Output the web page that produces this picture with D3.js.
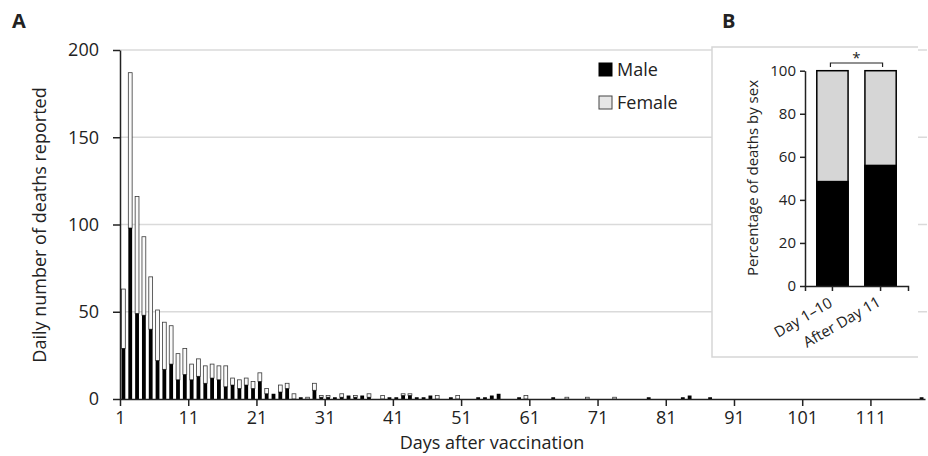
<!DOCTYPE html>
<html>
<head>
<meta charset="utf-8">
<script src="https://cdn.jsdelivr.net/npm/d3@7"></script>
<style>
  body { margin: 0; background: #fff; }
  svg { font-family: 'Open Sans', sans-serif; fill: #222; }
</style>
</head>
<body>
<div id="chart"></div>
<script>
const width = 928;
const height = 456;

// Panel A: daily deaths by sex, days 1..118 after vaccination
const days = d3.range(1, 119);
const male = [
  29, 98, 49, 48, 40, 22, 17, 20, 11, 14,
  11, 13, 9, 12, 11, 7, 8, 6, 8, 6,
  10, 3, 3, 4, 6, 0, 1, 0, 5, 1,
  1, 1, 1, 2, 1, 2, 1, 0, 0, 1,
  1, 2, 2, 1, 1, 2, 0, 0, 1, 0,
  0, 0, 1, 1, 2, 3, 0, 0, 1, 0,
  0, 0, 0, 1, 0, 0, 0, 0, 0, 0,
  0, 0, 0, 0, 0, 0, 0, 1, 0, 0,
  0, 0, 1, 2, 0, 0, 1, 0, 0, 0,
  0, 0, 0, 0, 0, 0, 0, 0, 0, 0,
  0, 0, 0, 0, 0, 0, 0, 0, 0, 0,
  0, 0, 0, 0, 0, 0, 0, 1
];
const female = [
  34, 89, 67, 45, 30, 29, 27, 22, 15, 15,
  9, 10, 10, 8, 8, 12, 4, 5, 4, 4,
  5, 3, 0, 4, 3, 3, 0, 1, 4, 1,
  1, 0, 2, 0, 1, 0, 2, 0, 2, 0,
  0, 1, 1, 0, 0, 0, 2, 0, 0, 2,
  0, 0, 0, 0, 0, 0, 0, 0, 0, 2,
  0, 0, 0, 0, 0, 1, 0, 0, 1, 0,
  0, 0, 1, 0, 0, 0, 0, 0, 0, 0,
  0, 0, 0, 0, 0, 0, 0, 0, 0, 0,
  0, 0, 0, 0, 0, 0, 0, 0, 0, 0,
  0, 0, 0, 0, 0, 0, 0, 0, 0, 0,
  0, 0, 0, 0, 0, 0, 0, 0
];
const dayTicks = [1, 11, 21, 31, 41, 51, 61, 71, 81, 91, 101, 111];
const countTicks = [0, 50, 100, 150, 200];

// Panel B: percentage of deaths by sex
const periods = ['Day 1\u201310', 'After Day 11'];
const malePct = [48.5, 56];
const pctTicks = [0, 20, 40, 60, 80, 100];

const svg = d3.select('#chart').append('svg')
  .attr('width', width)
  .attr('height', height);

// ---- panel A ----
const x = d3.scaleBand().domain(days).range([120, 925])
  .paddingInner(0.44).paddingOuter(0.22);
const xTick = d3.scaleLinear().domain([1, 119]).range([120, 925]);
const y = d3.scaleLinear().domain([0, 200]).range([399, 50]);

svg.append('g').selectAll('line')
  .data(countTicks.slice(1))
  .join('line')
  .attr('x1', 120).attr('x2', 927)
  .attr('y1', d => y(d)).attr('y2', d => y(d))
  .attr('stroke', '#dadada').attr('stroke-width', 1.5);

const rows = days.map((d, i) => ({ day: d, m: male[i], f: female[i] }));

svg.append('g').selectAll('rect')
  .data(rows.filter(r => r.f > 0))
  .join('rect')
  .attr('x', r => x(r.day))
  .attr('width', x.bandwidth())
  .attr('y', r => y(r.m + r.f))
  .attr('height', r => y(r.m) - y(r.m + r.f))
  .attr('fill', '#fafafa')
  .attr('stroke', '#3a3a3a')
  .attr('stroke-width', 0.8);

svg.append('g').selectAll('rect')
  .data(rows.filter(r => r.m > 0))
  .join('rect')
  .attr('x', r => x(r.day))
  .attr('width', x.bandwidth())
  .attr('y', r => y(r.m))
  .attr('height', r => y(0) - y(r.m))
  .attr('fill', '#000');

const yAxis = svg.append('g')
  .attr('transform', 'translate(120,0)')
  .call(d3.axisLeft(y).tickValues(countTicks).tickSize(7).tickSizeOuter(0).tickPadding(14));

const xAxis = svg.append('g')
  .attr('transform', 'translate(0,399)')
  .call(d3.axisBottom(xTick).tickValues(dayTicks).tickSize(7).tickSizeOuter(0).tickPadding(5));

[yAxis, xAxis].forEach(g => {
  g.select('.domain').attr('stroke', '#222').attr('stroke-width', 1.5);
  g.selectAll('.tick line').attr('stroke', '#222').attr('stroke-width', 1.5);
  g.selectAll('.tick text').attr('fill', '#222')
    .style('font-family', "'Open Sans', sans-serif").style('font-size', '18px');
});

svg.append('text')
  .attr('transform', 'translate(46,225) rotate(-90)')
  .attr('text-anchor', 'middle')
  .style('font-size', '18px')
  .text('Daily number of deaths reported');

svg.append('text')
  .attr('x', 492).attr('y', 449)
  .attr('text-anchor', 'middle')
  .style('font-size', '18px')
  .text('Days after vaccination');

svg.append('text')
  .attr('x', 12).attr('y', 28)
  .style('font-size', '20px').style('font-weight', 'bold')
  .text('A');

// legend
const legend = svg.append('g').attr('transform', 'translate(599,63)');
[['Male', '#000', '#000'], ['Female', '#e6e6e6', '#444']].forEach(([name, fill, stroke], i) => {
  const row = legend.append('g').attr('transform', `translate(0, ${i * 33})`);
  row.append('rect')
    .attr('width', 13).attr('height', 13)
    .attr('fill', fill).attr('stroke', stroke);
  row.append('text')
    .attr('x', 18).attr('y', 13)
    .style('font-size', '18px')
    .text(name);
});

// ---- panel B (inset) ----
svg.append('rect')
  .attr('x', 712).attr('y', 47)
  .attr('width', 206).attr('height', 310)
  .attr('fill', '#fff');
svg.append('path')
  .attr('d', 'M918,47H712V357H918')
  .attr('fill', 'none')
  .attr('stroke', '#d6d6d6').attr('stroke-width', 1.5);

const bx = d3.scaleBand().domain(periods).range([805, 908])
  .paddingInner(0.35).paddingOuter(0.245);
const by = d3.scaleLinear().domain([0, 100]).range([286, 70.7]);

const pct = periods.map((p, i) => ({ p, m: malePct[i] }));

svg.append('g').selectAll('rect')
  .data(pct)
  .join('rect')
  .attr('x', d => bx(d.p))
  .attr('width', bx.bandwidth())
  .attr('y', by(100))
  .attr('height', by(0) - by(100))
  .attr('fill', '#d6d6d6')
  .attr('stroke', '#000').attr('stroke-width', 1.5);

svg.append('g').selectAll('rect')
  .data(pct)
  .join('rect')
  .attr('x', d => bx(d.p))
  .attr('width', bx.bandwidth())
  .attr('y', d => by(d.m))
  .attr('height', d => by(0) - by(d.m))
  .attr('fill', '#000')
  .attr('stroke', '#000').attr('stroke-width', 1.5);

const byAxis = svg.append('g')
  .attr('transform', 'translate(805,0)')
  .call(d3.axisLeft(by).tickValues(pctTicks).tickSize(5).tickSizeOuter(0).tickPadding(4));

const bxAxis = svg.append('g')
  .attr('transform', 'translate(0,286)')
  .call(d3.axisBottom(bx).tickSize(5).tickSizeOuter(5));
bxAxis.selectAll('.tick text').remove();

[byAxis, bxAxis].forEach(g => {
  g.select('.domain').attr('stroke', '#222').attr('stroke-width', 1.5);
  g.selectAll('.tick line').attr('stroke', '#222').attr('stroke-width', 1.5);
  g.selectAll('.tick text').attr('fill', '#222')
    .style('font-family', "'Open Sans', sans-serif").style('font-size', '15px');
});

svg.append('g').selectAll('text')
  .data(periods)
  .join('text')
  .attr('transform', d => `translate(${bx(d) + bx.bandwidth() / 2 + 1},${d === periods[0] ? 306 : 305}) rotate(-30)`)
  .attr('text-anchor', 'end')
  .style('font-size', '15px')
  .text(d => d);

svg.append('text')
  .attr('transform', 'translate(758,178) rotate(-90)')
  .attr('text-anchor', 'middle')
  .style('font-size', '15px')
  .text('Percentage of deaths by sex');

const c1 = bx(periods[0]) + bx.bandwidth() / 2;
const c2 = bx(periods[1]) + bx.bandwidth() / 2;
svg.append('path')
  .attr('d', `M${c1 - 2},67V63H${c2 + 2}V67`)
  .attr('fill', 'none')
  .attr('stroke', '#222').attr('stroke-width', 1.2);
svg.append('text')
  .attr('x', (c1 + c2) / 2).attr('y', 63)
  .attr('text-anchor', 'middle')
  .style('font-size', '15px')
  .text('*');

svg.append('text')
  .attr('x', 722).attr('y', 28)
  .style('font-size', '20px').style('font-weight', 'bold')
  .text('B');
</script>
</body>
</html>
